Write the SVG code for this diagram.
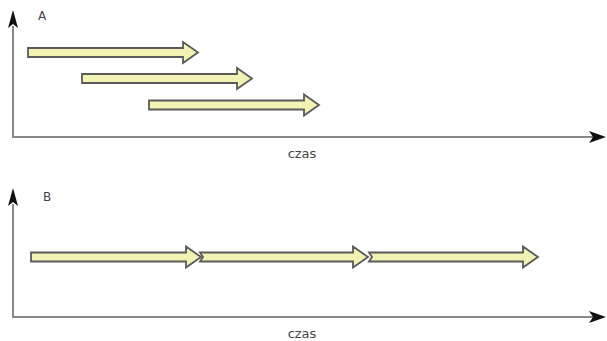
<svg xmlns="http://www.w3.org/2000/svg" width="607" height="341" viewBox="0 0 607 341">
  <style>
    .axis { fill: none; stroke: #888; stroke-width: 2; }
    .head { fill: #111; stroke: none; }
    .task { fill: #f2f2b2; stroke: #5a5a5a; stroke-width: 1.8; stroke-linejoin: miter; }
    .lbl { font-family: "DejaVu Sans", sans-serif; fill: #444; }
  </style>
  <defs>
    <!-- horizontal block arrow, 170 long, tip at the origin's right end -->
    <path id="block" d="M0,-4.5 H155 V-10.5 L170,0 L155,10.5 V4.5 H0 Z"/>
    <!-- concave axis arrowheads -->
    <path id="headUp" d="M0,0 L5,18 L0,14 L-5,18 Z"/>
    <path id="headRight" d="M0,0 L-17,-6 L-13,0 L-17,6 Z"/>
  </defs>

  <!-- chart A: overlapping tasks -->
  <g id="chartA">
    <g id="axesA">
      <path class="axis" d="M13,26 V137 H594"/>
      <use href="#headUp" class="head" x="13" y="10"/>
      <use href="#headRight" class="head" x="606" y="137"/>
    </g>
    <text class="lbl" x="38" y="20" font-size="12">A</text>
    <text class="lbl" x="302" y="158" font-size="13" text-anchor="middle">czas</text>
    <g id="a1"><use href="#block" class="task" x="28" y="52.5"/></g>
    <g id="a2"><use href="#block" class="task" x="82" y="78.5"/></g>
    <g id="a3"><use href="#block" class="task" x="149" y="105"/></g>
  </g>

  <!-- chart B: sequential tasks -->
  <g id="chartB">
    <g id="axesB">
      <path class="axis" d="M13,204 V317 H594"/>
      <use href="#headUp" class="head" x="13" y="188"/>
      <use href="#headRight" class="head" x="606" y="317"/>
    </g>
    <text class="lbl" x="43" y="201" font-size="12">B</text>
    <text class="lbl" x="302" y="338" font-size="13" text-anchor="middle">czas</text>
    <g id="b1"><use href="#block" class="task" x="31" y="257"/></g>
    <g id="b2"><path class="task" d="M200,252.5 H353 V246.5 L368,257 L353,267.5 V261.5 H200 L203,257 Z"/></g>
    <g id="b3"><path class="task" d="M369,252.5 H523 V246.5 L538,257 L523,267.5 V261.5 H369 L372,257 Z"/></g>
  </g>
</svg>
